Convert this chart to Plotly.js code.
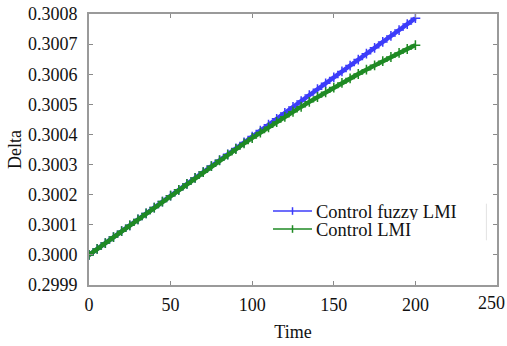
<!DOCTYPE html>
<html>
<head>
<meta charset="utf-8">
<script src="https://cdn.plot.ly/plotly-3.0.1.min.js"></script>
<style>
  html, body { margin: 0; padding: 0; background: #fff; }
  #chart { width: 507px; height: 346px; }
</style>
</head>
<body>
<div id="chart"></div>
<script>
// Sample instants
const time = [0, 5, 10, 15, 20, 25, 30, 35, 40, 45, 50, 55, 60, 65, 70, 75, 80, 85, 90, 95,
  100, 105, 110, 115, 120, 125, 130, 135, 140, 145, 150, 155, 160, 165, 170, 175, 180, 185, 190, 195, 200];

// Delta under the fuzzy LMI controller
const deltaFuzzy = [0.3000000, 0.3000197, 0.3000393, 0.3000590, 0.3000786, 0.3000983, 0.3001179,
  0.3001376, 0.3001572, 0.3001769, 0.3001965, 0.3002162, 0.3002358, 0.3002555, 0.3002751,
  0.3002948, 0.3003144, 0.3003341, 0.3003537, 0.3003734, 0.3003930, 0.3004127, 0.3004323,
  0.3004520, 0.3004716, 0.3004913, 0.3005109, 0.3005306, 0.3005502, 0.3005699, 0.3005895,
  0.3006092, 0.3006288, 0.3006485, 0.3006681, 0.3006878, 0.3007074, 0.3007271, 0.3007467,
  0.3007664, 0.3007860];

// Delta under the plain LMI controller
const deltaLMI = [0.3000000, 0.3000197, 0.3000393, 0.3000590, 0.3000786, 0.3000983, 0.3001179,
  0.3001376, 0.3001572, 0.3001769, 0.3001965, 0.3002162, 0.3002358, 0.3002555, 0.3002751,
  0.3002947, 0.3003139, 0.3003329, 0.3003516, 0.3003701, 0.3003882, 0.3004062, 0.3004238,
  0.3004413, 0.3004584, 0.3004753, 0.3004919, 0.3005082, 0.3005243, 0.3005401, 0.3005556,
  0.3005710, 0.3005859, 0.3006008, 0.3006152, 0.3006295, 0.3006434, 0.3006572, 0.3006706,
  0.3006837, 0.3006966];

const seriesNames = ['Control fuzzy LMI', 'Control LMI'];
const xTicks = [0, 50, 100, 150, 200, 250];
const xTickText = ['0', '50', '100', '150', '200', '250'];
const yTicks = [0.2999, 0.3000, 0.3001, 0.3002, 0.3003, 0.3004, 0.3005, 0.3006, 0.3007, 0.3008];
const yTickText = ['0.2999', '0.3000', '0.3001', '0.3002', '0.3003', '0.3004', '0.3005', '0.3006', '0.3007', '0.3008'];

const FONT = '"Liberation Serif", "Times New Roman", serif';
const FS = 18;
const BLUE = '#3c3cfa';
const GREEN = '#1f8a24';
const colors = [BLUE, GREEN];

const traces = [deltaFuzzy, deltaLMI].map((ys, i) => ({
  x: time, y: ys, name: seriesNames[i], type: 'scatter', mode: 'lines+markers',
  showlegend: false,
  line: { color: colors[i], width: 4.4 },
  marker: { symbol: 'cross-thin', size: 7, color: colors[i], line: { color: colors[i], width: 1.5 } }
}));

// Compact legend drawn in paper coordinates: short line, a '+' tick, and the label
const legX0 = 0.451, legX1 = 0.5466, legXc = 0.4988, legTextX = 0.5515;
const legRows = [0.273, 0.2066];
const shapes = [];
const annotations = [];
legRows.forEach((yy, i) => {
  shapes.push({ type: 'line', xref: 'paper', yref: 'paper', x0: legX0, x1: legX1, y0: yy, y1: yy,
    line: { color: colors[i], width: 1.5 } });
  shapes.push({ type: 'line', xref: 'paper', yref: 'paper', x0: legXc, x1: legXc, y0: yy - 0.014, y1: yy + 0.014,
    line: { color: colors[i], width: 1.5 } });
  annotations.push({ xref: 'paper', yref: 'paper', x: legTextX, y: yy, xanchor: 'left', yanchor: 'middle',
    height: 17, showarrow: false, text: seriesNames[i], font: { family: FONT, size: 18.5, color: '#111' } });
});
// faint frame edge to the right of the legend
shapes.push({ type: 'line', xref: 'paper', yref: 'paper', x0: 0.974, x1: 0.974, y0: 0.165, y1: 0.3,
  line: { color: '#e2e2e2', width: 1 } });

// the last x label sits against the right edge, nudged inward so it stays whole
const lastX = xTicks.length - 1;
annotations.push({ xref: 'x', yref: 'paper', x: xTicks[lastX], y: 0, xanchor: 'center', yanchor: 'top',
  xshift: -6, yshift: -6, showarrow: false, text: xTickText[lastX],
  font: { family: FONT, size: FS, color: '#111' } });
const xTickShown = xTickText.map((t, i) => (i === lastX ? '' : t));

const axisCommon = {
  showline: true, linecolor: '#9a9a9a', linewidth: 2, mirror: 'ticks',
  ticks: 'inside', ticklen: 4, tickwidth: 1, tickcolor: '#8a8a8a',
  showgrid: false, zeroline: false,
  tickfont: { family: FONT, size: FS, color: '#111' }
};

const layout = {
  width: 507, height: 346,
  margin: { l: 89, r: 10, t: 14, b: 61 },
  paper_bgcolor: '#fff', plot_bgcolor: '#fff',
  font: { family: FONT, color: '#111' },
  showlegend: false,
  xaxis: Object.assign({}, axisCommon, {
    range: [0, 250], tickvals: xTicks, ticktext: xTickShown, ticklabelstandoff: 2,
    title: { text: 'Time', font: { family: FONT, size: FS, color: '#111' }, standoff: 12 }
  }),
  yaxis: Object.assign({}, axisCommon, {
    range: [0.2999, 0.3008], tickvals: yTicks, ticktext: yTickText, ticklabelstandoff: 6,
    title: { text: 'Delta', font: { family: FONT, size: FS, color: '#111' }, standoff: 2 }
  }),
  shapes: shapes,
  annotations: annotations
};

Plotly.newPlot('chart', traces, layout, { displayModeBar: false, staticPlot: true });
</script>
</body>
</html>
